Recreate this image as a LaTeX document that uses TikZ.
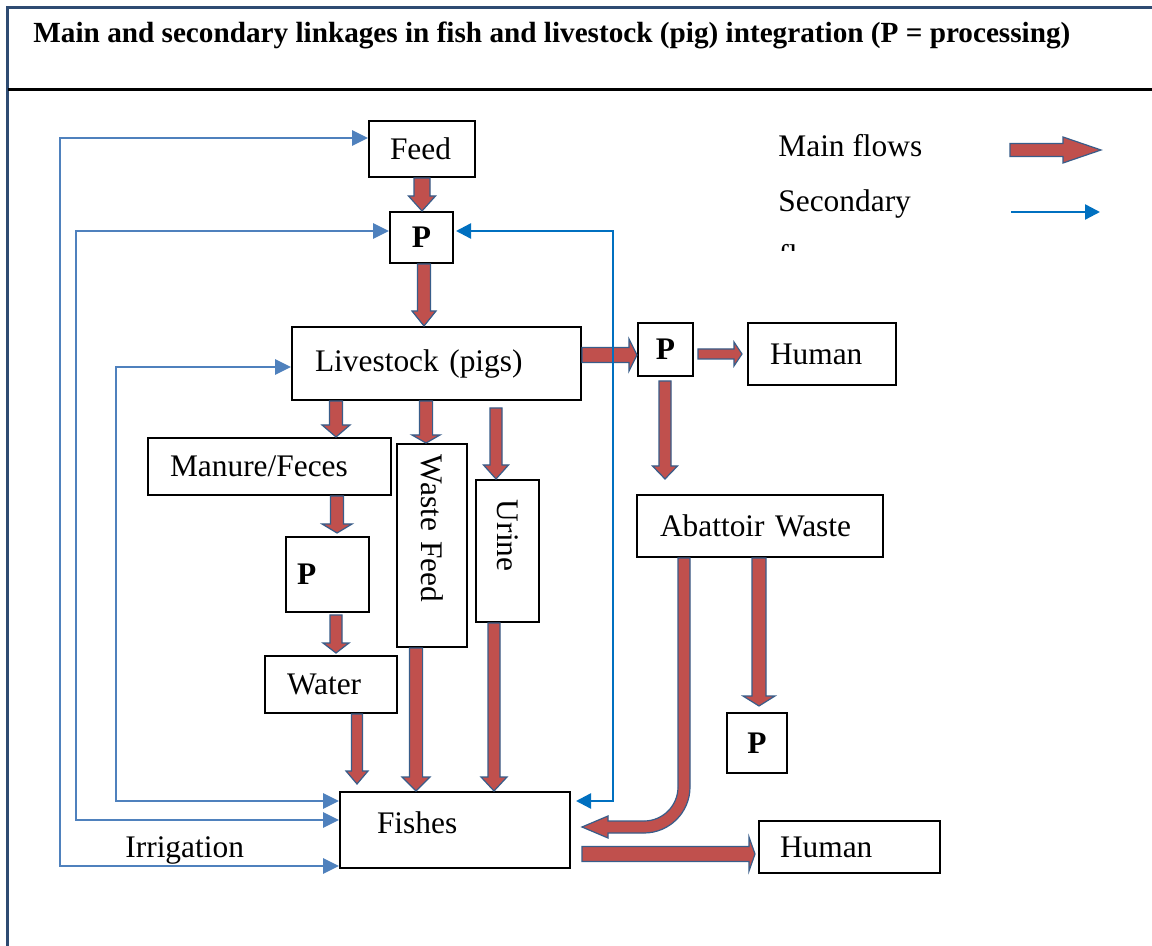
\documentclass[tikz,border=0pt]{standalone}
\usepackage{graphicx}
\usepackage{fontspec}
\setmainfont{Liberation Serif}
\usetikzlibrary{calc,arrows.meta}
\definecolor{mainred}{HTML}{C0504D}
\definecolor{mainedge}{HTML}{385D8A}
\definecolor{secblue}{HTML}{4F81BD}
\definecolor{secblue2}{HTML}{0070C0}
\definecolor{framec}{HTML}{2E4B72}
% fat vertical arrow: #1 x (px), #2 from, #3 to, #4 shaft half, #5 head half, #6 head length
\newcommand\fatdown[6]{\path[fatarrow] let \p1=(#2), \p2=(#3), \p3=(#1,0) in
  (\x3-#4,\y1) -- (\x3-#4,\y2+#6) -- (\x3-#5,\y2+#6) -- (\x3,\y2) -- (\x3+#5,\y2+#6) -- (\x3+#4,\y2+#6) -- (\x3+#4,\y1) -- cycle;}
% fat horizontal arrow: #1 y (px), #2 from, #3 to, #4 shaft half, #5 head half, #6 head length
\newcommand\fatright[6]{\path[fatarrow] let \p1=(#2), \p2=(#3), \p3=(0,#1) in
  (\x1,\y3+#4) -- (\x2-#6,\y3+#4) -- (\x2-#6,\y3+#5) -- (\x2,\y3) -- (\x2-#6,\y3-#5) -- (\x2-#6,\y3-#4) -- (\x1,\y3-#4) -- cycle;}
\tikzset{
  txt/.style={font=\fontsize{15.7}{18.8}\selectfont, inner sep=0pt},
  box/.style={draw=black, line width=1pt, fill=white, align=left, inner ysep=0pt, inner xsep=11pt, font=\fontsize{15.7}{18.8}\selectfont},
  pbox/.style={draw=black, line width=1pt, fill=white, inner sep=0pt, font=\bfseries\fontsize{15.7}{18.8}\selectfont},
  fatarrow/.style={fill=mainred, draw=mainedge, line width=0.6pt, line join=miter},
  secA/.style={draw=secblue, line width=1.4pt, >={Triangle[length=8pt,width=7.5pt]}, <->},
  secB/.style={draw=secblue2, line width=1.2pt, >={Triangle[length=7.5pt,width=7.5pt]}},
}
\begin{document}
\begin{tikzpicture}[x=0.5pt,y=-0.5pt]
\useasboundingbox (0,0) rectangle (1152,946);
\fill[white] (0,0) rectangle (1152,946);
% frame
\draw[framec, line width=1.5pt] (7.5,946) -- (7.5,7.5) -- (1152,7.5);
\draw[black, line width=1.5pt] (7.5,90) -- (1152,90);
% title
\node[anchor=base west, inner sep=0pt] (title) at (33,43)
  {\resizebox{518.5pt}{!}{\bfseries\fontsize{13.3}{16}\selectfont Main and secondary linkages in fish and livestock (pig) integration (P = processing)}};
% boxes
\node[box, text width=32pt, inner xsep=10.5pt, minimum height=28pt] (feed) at (422,149) {Feed};
\node[pbox, minimum width=31.5pt, minimum height=25.5pt] (p1) at (421.5,237.5) {P};
\node[box, text width=121.5pt, inner xsep=11.5pt, minimum height=36.5pt] (livestock) at (436.5,363.5) {Livestock (pigs)};
\node[pbox, minimum width=27.5pt, minimum height=26.5pt] (p2) at (665.5,349.5) {P};
\node[box, text width=52pt, minimum height=31pt] (human1) at (822,354) {Human};
\node[box, text width=99.5pt, minimum height=28.5pt] (manure) at (269.5,466.5) {Manure/Feces};
\node[pbox, align=left, text width=30.5pt, inner xsep=5.5pt, minimum height=37.5pt] (p3) at (327.5,574.5) {P};
\node[box, text width=44pt, minimum height=28.5pt] (water) at (331,684.5) {Water};
\node[box, rotate=-90, text width=90.5pt, inner xsep=5.5pt, minimum height=35pt] (waste) at (432,545.5) {Waste Feed};
\node[box, rotate=-90, text width=51pt, inner xsep=10pt, minimum height=31.5pt] (urine) at (507.5,551) {Urine};
\node[box, text width=78pt, inner xsep=18.5pt, text height=20.5pt, text depth=17.5pt] (fishes) at (455,830) {Fishes};
\node[box, text width=100pt, inner xsep=11.5pt, minimum height=31pt] (abattoir) at (760,526) {Abattoir Waste};
\node[pbox, minimum width=30pt, minimum height=30pt] (p4) at (757,743) {P};
\node[box, text width=69.5pt, inner xsep=10.5pt, minimum height=26pt] (human2) at (849.5,847) {Human};
\node[txt, anchor=base west] (irr) at (125,857) {Irrigation};
% legend
\node[txt, anchor=base west] (lmain) at (778,157) {Main flows};
\node[txt, anchor=base west] (lsec) at (778,212) {Secondary};
\begin{scope}
\clip (770,230) rectangle (900,251);
\node[txt, anchor=base west] (lflows) at (778,267) {flows};
\end{scope}
\coordinate (lm1) at (1010,150);
\coordinate (lm2) at (1101,150);
\fatright{150}{lm1}{lm2}{3.25pt}{6.5pt}{19pt}
\coordinate (ls1) at (1011,212);
\coordinate (ls2) at (1100,212);
\draw[secB, ->] (ls1) -- (ls2);
% main flows
\fatdown{422}{feed.south}{p1.north}{4pt}{6.75pt}{7.5pt}
\fatdown{424}{p1.south}{livestock.north}{3.25pt}{6pt}{7.5pt}
\fatright{355}{livestock.east}{p2.west}{3.75pt}{8pt}{4pt}
\fatright{354}{[xshift=2pt]p2.east}{[xshift=-2.5pt]human1.west}{2.5pt}{6pt}{4pt}
\fatdown{665}{[yshift=-2pt]p2.south}{[yshift=7.5pt]abattoir.north}{3pt}{6.25pt}{6.5pt}
\fatdown{336}{livestock.south}{manure.north}{3.25pt}{7pt}{6pt}
\fatdown{426}{livestock.south}{waste.west}{3.3pt}{7pt}{4pt}
\fatdown{496}{[yshift=-3.5pt]livestock.south}{urine.west}{3pt}{6.25pt}{7pt}
\fatdown{337}{manure.south}{[yshift=1.5pt]p3.north}{3.25pt}{7.5pt}{4.5pt}
\fatdown{336}{[yshift=-1pt]p3.south}{[yshift=1pt]water.north}{3pt}{6.5pt}{5pt}
\fatdown{357}{water.south}{[yshift=3.5pt]fishes.north}{2.75pt}{5.5pt}{6.5pt}
\fatdown{416}{waste.east}{fishes.north}{3.3pt}{7pt}{7pt}
\fatdown{494}{urine.east}{fishes.north}{3pt}{6.5pt}{7pt}
\fatdown{759}{abattoir.south}{[yshift=3pt]p4.north}{3.5pt}{8pt}{5pt}
\fatright{854}{[xshift=5.5pt]fishes.east}{[xshift=-1.5pt]human2.west}{3.75pt}{8.5pt}{3pt}
% curved abattoir waste -> fishes
\path[fatarrow] let \p1=(abattoir.south), \p2=([xshift=5.5pt]fishes.east) in
  (345pt,\y1) -- (345pt,-393.5pt) .. controls (345pt,-406.2pt) and (334.7pt,-416.5pt) .. (322pt,-416.5pt)
  -- (304pt,-416.5pt) -- (304pt,-419pt) -- (\x2,-413.5pt) -- (304pt,-408pt) -- (304pt,-410.5pt)
  -- (322pt,-410.5pt) .. controls (331.4pt,-410.5pt) and (339pt,-402.9pt) .. (339pt,-393.5pt)
  -- (339pt,\y1) -- cycle;
% secondary flows
\coordinate (a1) at (60,866);
\coordinate (a2) at (60,138);
\draw[secA] (fishes.south west |- a1) -- (a1) -- (a2) -- (feed.west |- a2);
\coordinate (b1) at (76,820);
\coordinate (b2) at (76,231);
\draw[secA] (fishes.west |- b1) -- (b1) -- (b2) -- (p1.west |- b2);
\coordinate (c1) at (116,801);
\coordinate (c2) at (116,367);
\draw[secA] (fishes.west |- c1) -- (c1) -- (c2) -- (livestock.west |- c2);
\coordinate (d1) at (613,801);
\coordinate (d2) at (613,231);
\draw[secB, <->] ($(fishes.east |- d1)+(2.5pt,0)$) -- (d1) -- (d2) -- ($(p1.east |- d2)+(1pt,0)$);
\end{tikzpicture}
\end{document}
